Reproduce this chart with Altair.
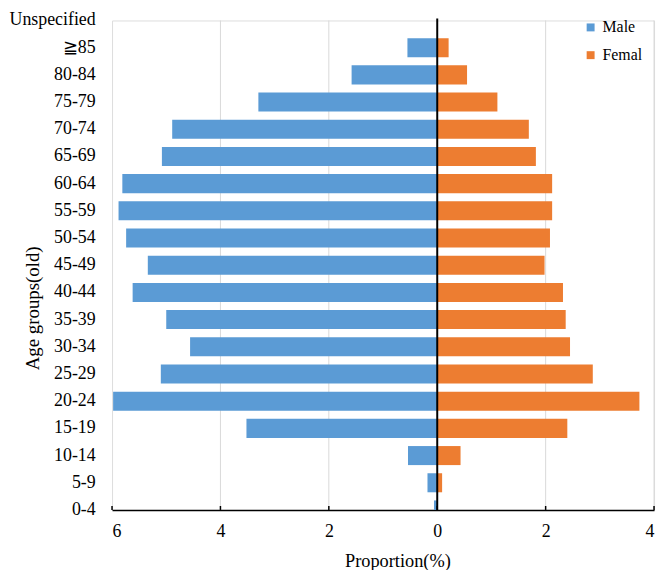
import altair as alt
import pandas as pd

age_groups = ["Unspecified", "≧85", "80-84", "75-79", "70-74", "65-69", "60-64",
              "55-59", "50-54", "45-49", "40-44", "35-39", "30-34", "25-29",
              "20-24", "15-19", "10-14", "5-9", "0-4"]
male = [0, 0.55, 1.58, 3.30, 4.89, 5.08, 5.81, 5.88, 5.74, 5.34, 5.62, 5.00,
        4.56, 5.10, 5.98, 3.52, 0.54, 0.18, 0.06]
female = [0, 0.21, 0.55, 1.11, 1.69, 1.82, 2.12, 2.12, 2.08, 1.98, 2.32, 2.37,
          2.45, 2.87, 3.73, 2.40, 0.43, 0.09, 0]
sexes = ["Male", "Femal"]
colors = ["#5b9bd5", "#ed7d31"]
x_ticks = [-6, -4, -2, 0, 2, 4]
grid_vals = [-4, -2, 2, 4]

rows = []
for g, m, f in zip(age_groups, male, female):
    rows.append({"age": g, "sex": "Male", "value": -m})
    rows.append({"age": g, "sex": "Femal", "value": f})
df = pd.DataFrame(rows)

W, H = 547, 494
FONT = "Liberation Serif"
step = H / 18.0

x_scale = alt.Scale(domain=[-6, 4], nice=False, zero=False)

bars = alt.Chart(df).mark_bar(clip=True).encode(
    x=alt.X("value:Q", scale=x_scale,
            axis=alt.Axis(values=x_ticks, labelExpr="format(abs(datum.value), 'd')",
                          title="Proportion(%)", grid=False, ticks=False,
                          domainColor="black", domainWidth=1.5,
                          labelFont=FONT, labelFontSize=18, labelColor="black",
                          labelPadding=13,
                          titleFont=FONT, titleFontSize=18.5, titleFontWeight="normal",
                          titleColor="black", titleX=288, titleY=51,
                          titleBaseline="middle", titleAlign="center")),
    x2=alt.datum(0),
    y=alt.Y("age:N", sort=age_groups,
            scale=alt.Scale(range=[-step / 2, H + step / 2], paddingInner=0.3,
                            paddingOuter=0.15),
            axis=alt.Axis(title="Age groups(old)", domain=False, ticks=False, grid=False,
                          labelFont=FONT, labelFontSize=18, labelColor="black",
                          labelPadding=17,
                          titleFont=FONT, titleFontSize=19, titleFontWeight="normal",
                          titleColor="black", titleAngle=270, titleX=-80, titleY=290,
                          titleAlign="center", titleBaseline="middle")),
    color=alt.Color("sex:N", scale=alt.Scale(domain=sexes, range=colors),
                    legend=alt.Legend(title=None, orient="none", legendX=475, legendY=-1,
                                      symbolType="square", symbolSize=64,
                                      symbolStrokeWidth=0, labelFont=FONT,
                                      labelFontSize=16, labelColor="black",
                                      labelOffset=4, rowPadding=12, padding=0)),
)

grid_df = pd.DataFrame({"v": grid_vals})
grid = alt.Chart(grid_df).mark_rule(color="#d9d9d9", strokeWidth=1).encode(
    x=alt.X("v:Q", scale=x_scale),
    y=alt.value(0), y2=alt.value(H),
)

tick_df = pd.DataFrame({"v": x_ticks})
ticks = alt.Chart(tick_df).mark_rule(color="black", strokeWidth=1.5).encode(
    x=alt.X("v:Q", scale=x_scale),
    y=alt.value(H - 4), y2=alt.value(H),
)

zero_df = pd.DataFrame({"v": [0]})
zero = alt.Chart(zero_df).mark_rule(color="black", strokeWidth=2).encode(
    x=alt.X("v:Q", scale=x_scale),
    y=alt.value(-2), y2=alt.value(H),
)

chart = alt.layer(grid, bars, ticks, zero).properties(
    width=W, height=H,
    autosize=alt.AutoSizeParams(type="none"),
    padding={"left": 105, "top": 10, "right": 4, "bottom": 58},
).configure_view(stroke=None).configure(background="white")

chart.save("out.html", embed_options={"renderer": "svg", "actions": False})
